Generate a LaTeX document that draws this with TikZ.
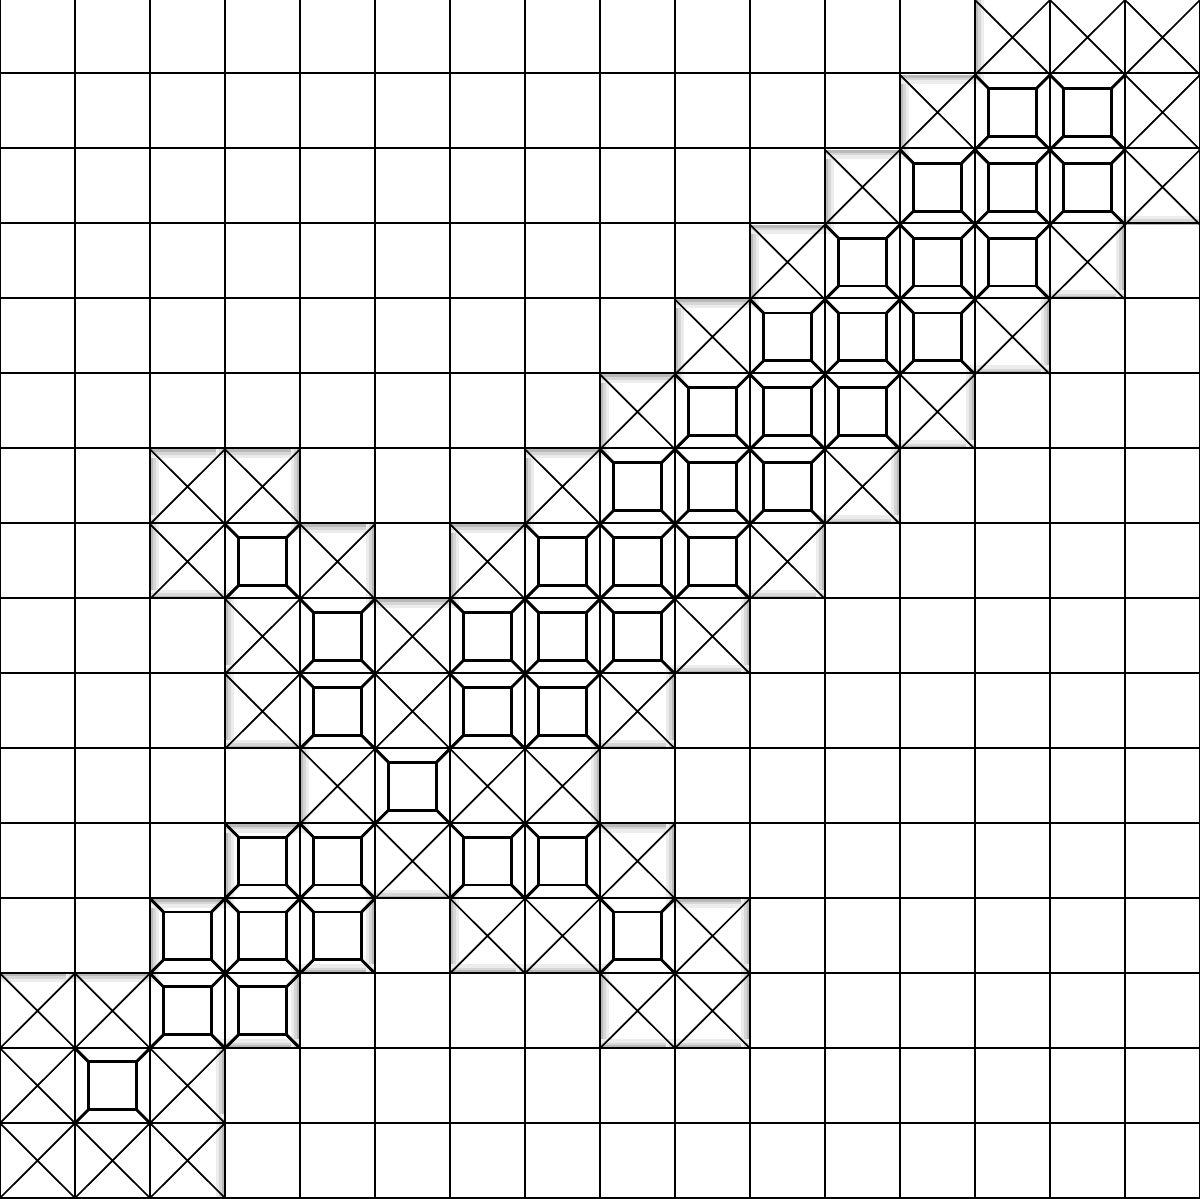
\documentclass[tikz,border=0pt]{standalone}
\newcommand{\crosscells}{13/0,14/0,15/0, 12/1,15/1, 11/2,15/2, 10/3,14/3, 9/4,13/4, 8/5,12/5, 2/6,3/6,7/6,11/6, 2/7,4/7,6/7,10/7, 3/8,5/8,9/8, 3/9,5/9,8/9, 4/10,6/10,7/10, 5/11,8/11, 6/12,7/12,9/12, 0/13,1/13,8/13,9/13, 0/14,2/14, 0/15,1/15,2/15}
\newcommand{\framecells}{13/1,14/1, 12/2,13/2,14/2, 11/3,12/3,13/3, 10/4,11/4,12/4, 9/5,10/5,11/5, 8/6,9/6,10/6, 3/7,7/7,8/7,9/7, 4/8,6/8,7/8,8/8, 4/9,6/9,7/9, 5/10, 3/11,4/11,6/11,7/11, 2/12,3/12,4/12,8/12, 2/13,3/13, 1/14}
\begin{document}
\begin{tikzpicture}
    [
    y=0.99833cm,
    gridline/.style={line width=1.05pt},
    cross/.style={line width=0.65pt},
    frame/.style={line width=1.1pt},
    glow/.style={draw=gray!#1}
    ]
    \useasboundingbox (0,0) rectangle (16,16);
    \fill[white] (0,0) rectangle (16,16);
    % mark the cells that carry a pattern
    \foreach \c/\r in \crosscells {\expandafter\gdef\csname cell-\c-\r\endcsname{x}}
    \foreach \c/\r in \framecells {\expandafter\gdef\csname cell-\c-\r\endcsname{x}}
    % soft shadow along the edges of the patterned areas
    \foreach \c in {0,...,15} {
      \foreach \r in {0,...,15} {
        \ifcsname cell-\c-\r\endcsname\else
          \draw[glow=15,line width=0.24cm] (\c,{15-\r}) rectangle ++(1,1);
          \draw[glow=32,line width=0.15cm] (\c,{15-\r}) rectangle ++(1,1);
          \draw[glow=55,line width=0.08cm] (\c,{15-\r}) rectangle ++(1,1);
        \fi
      }
    }
    \foreach \c in {0,...,15} {
      \foreach \r in {0,...,15} {
        \ifcsname cell-\c-\r\endcsname\else
          \fill[white] (\c,{15-\r}) rectangle ++(1,1);
        \fi
      }
    }
    % crossed cells
    \foreach \c/\r in \crosscells {
      \draw[cross] (\c,{15-\r}) -- ++(1,1) ({\c+1},{15-\r}) -- ++(-1,1);
    }
    % framed cells
    \foreach \c/\r in \framecells {
      \draw[frame] ({\c+0.18},{15.18-\r}) rectangle ++(0.64,0.64);
      \draw[frame] (\c,{15-\r}) -- ++(0.18,0.18)
                   ({\c+1},{15-\r}) -- ++(-0.18,0.18)
                   (\c,{16-\r}) -- ++(0.18,-0.18)
                   ({\c+1},{16-\r}) -- ++(-0.18,-0.18);
    }
    \draw[gridline] (0,0) grid (16,16);
  \end{tikzpicture}
\end{document}
